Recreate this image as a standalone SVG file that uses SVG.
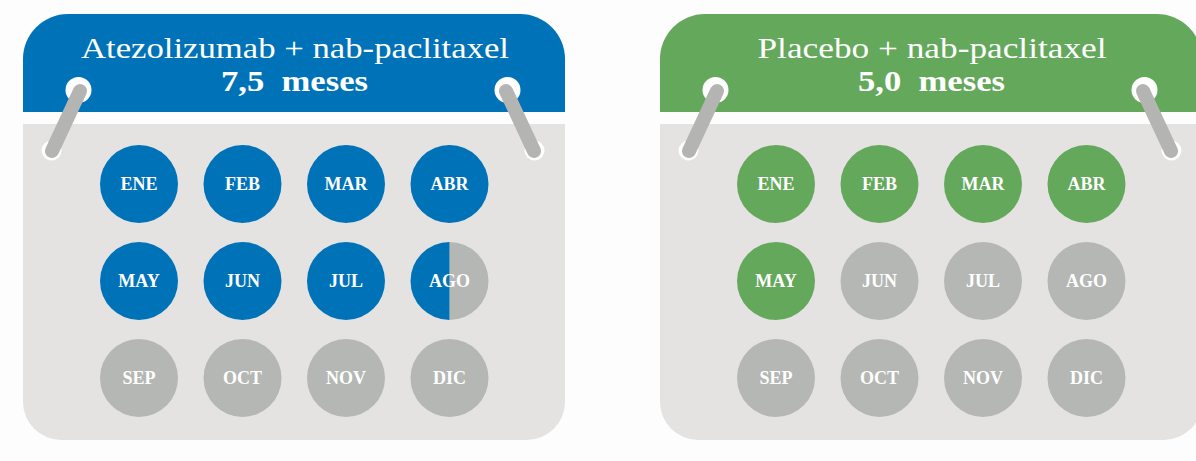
<svg xmlns="http://www.w3.org/2000/svg" width="1196" height="461" viewBox="0 0 1196 461">
  <style>
    .bg { fill: #FDFDFD; }
    .body { fill: #E4E3E1; }
    .hdr-blue { fill: #0072B8; }
    .hdr-green { fill: #64A85C; }
    .m-blue { fill: #0072B8; }
    .m-green { fill: #64A85C; }
    .m-gray { fill: #B5B7B4; }
    .title { font-family: "Liberation Serif", "Times New Roman", serif; font-size: 30px; fill: #FFFFFF; text-anchor: middle; }
    .sub { font-family: "Liberation Serif", "Times New Roman", serif; font-size: 30px; font-weight: bold; fill: #FFFFFF; text-anchor: middle; }
    .mon { font-family: "Liberation Serif", "Times New Roman", serif; font-size: 18px; font-weight: bold; fill: #FFFFFF; text-anchor: middle; }
    .hole { fill: #FFFFFF; }
    .bar { stroke: #B4B5B2; stroke-width: 14; stroke-linecap: round; fill: none; }
  </style>
  <defs>
    <clipPath id="leftHalf"><rect x="-40" y="-40" width="40" height="80"/></clipPath>
    <clipPath id="rightHalf"><rect x="0" y="-40" width="40" height="80"/></clipPath>
  </defs>
  <rect class="bg" x="0" y="0" width="1196" height="461"/>

  <!-- Left calendar -->
  <g id="calendar-atezolizumab">
    <path class="hdr-blue" d="M23,112 V59 A45,45 0 0 1 68,14 H520 A45,45 0 0 1 565,59 V112 Z"/>
    <path class="body" d="M23,124 H565 V402 A38,38 0 0 1 527,440 H61 A38,38 0 0 1 23,402 Z"/>
    <text class="title" x="295" y="57.5" textLength="428" lengthAdjust="spacingAndGlyphs">Atezolizumab + nab-paclitaxel</text>
    <text class="sub" x="294.5" y="91" textLength="147" lengthAdjust="spacingAndGlyphs" xml:space="preserve">7,5  meses</text>
    <g id="ring-a-left">
      <circle class="hole" cx="78.5" cy="90" r="13"/>
      <circle class="hole" cx="51.5" cy="150.5" r="10"/>
      <line class="bar" x1="80" y1="91" x2="52" y2="151"/>
    </g>
    <g id="ring-a-right">
      <circle class="hole" cx="507.5" cy="90" r="13"/>
      <circle class="hole" cx="534.5" cy="150.5" r="10"/>
      <line class="bar" x1="506" y1="91" x2="534" y2="151"/>
    </g>
    <g id="a-ene" transform="translate(139,184)"><circle class="m-blue" r="39"/><text class="mon" y="6">ENE</text></g>
    <g id="a-feb" transform="translate(242.5,184)"><circle class="m-blue" r="39"/><text class="mon" y="6">FEB</text></g>
    <g id="a-mar" transform="translate(346,184)"><circle class="m-blue" r="39"/><text class="mon" y="6">MAR</text></g>
    <g id="a-abr" transform="translate(449.5,184)"><circle class="m-blue" r="39"/><text class="mon" y="6">ABR</text></g>
    <g id="a-may" transform="translate(139,281)"><circle class="m-blue" r="39"/><text class="mon" y="6">MAY</text></g>
    <g id="a-jun" transform="translate(242.5,281)"><circle class="m-blue" r="39"/><text class="mon" y="6">JUN</text></g>
    <g id="a-jul" transform="translate(346,281)"><circle class="m-blue" r="39"/><text class="mon" y="6">JUL</text></g>
    <g id="a-ago" transform="translate(449.5,281)">
      <circle class="m-gray" r="39" clip-path="url(#rightHalf)"/>
      <circle class="m-blue" r="39" clip-path="url(#leftHalf)"/>
      <text class="mon" y="6">AGO</text>
    </g>
    <g id="a-sep" transform="translate(139,378)"><circle class="m-gray" r="39"/><text class="mon" y="6">SEP</text></g>
    <g id="a-oct" transform="translate(242.5,378)"><circle class="m-gray" r="39"/><text class="mon" y="6">OCT</text></g>
    <g id="a-nov" transform="translate(346,378)"><circle class="m-gray" r="39"/><text class="mon" y="6">NOV</text></g>
    <g id="a-dic" transform="translate(449.5,378)"><circle class="m-gray" r="39"/><text class="mon" y="6">DIC</text></g>
  </g>

  <!-- Right calendar -->
  <g id="calendar-placebo" transform="translate(637,0)">
    <path class="hdr-green" d="M23,112 V59 A45,45 0 0 1 68,14 H520 A45,45 0 0 1 565,59 V112 Z"/>
    <path class="body" d="M23,124 H565 V402 A38,38 0 0 1 527,440 H61 A38,38 0 0 1 23,402 Z"/>
    <text class="title" x="295" y="57.5" textLength="349" lengthAdjust="spacingAndGlyphs">Placebo + nab-paclitaxel</text>
    <text class="sub" x="294.5" y="91" textLength="147" lengthAdjust="spacingAndGlyphs" xml:space="preserve">5,0  meses</text>
    <g id="ring-p-left">
      <circle class="hole" cx="78.5" cy="90" r="13"/>
      <circle class="hole" cx="51.5" cy="150.5" r="10"/>
      <line class="bar" x1="80" y1="91" x2="52" y2="151"/>
    </g>
    <g id="ring-p-right">
      <circle class="hole" cx="507.5" cy="90" r="13"/>
      <circle class="hole" cx="534.5" cy="150.5" r="10"/>
      <line class="bar" x1="506" y1="91" x2="534" y2="151"/>
    </g>
    <g id="p-ene" transform="translate(139,184)"><circle class="m-green" r="39"/><text class="mon" y="6">ENE</text></g>
    <g id="p-feb" transform="translate(242.5,184)"><circle class="m-green" r="39"/><text class="mon" y="6">FEB</text></g>
    <g id="p-mar" transform="translate(346,184)"><circle class="m-green" r="39"/><text class="mon" y="6">MAR</text></g>
    <g id="p-abr" transform="translate(449.5,184)"><circle class="m-green" r="39"/><text class="mon" y="6">ABR</text></g>
    <g id="p-may" transform="translate(139,281)"><circle class="m-green" r="39"/><text class="mon" y="6">MAY</text></g>
    <g id="p-jun" transform="translate(242.5,281)"><circle class="m-gray" r="39"/><text class="mon" y="6">JUN</text></g>
    <g id="p-jul" transform="translate(346,281)"><circle class="m-gray" r="39"/><text class="mon" y="6">JUL</text></g>
    <g id="p-ago" transform="translate(449.5,281)"><circle class="m-gray" r="39"/><text class="mon" y="6">AGO</text></g>
    <g id="p-sep" transform="translate(139,378)"><circle class="m-gray" r="39"/><text class="mon" y="6">SEP</text></g>
    <g id="p-oct" transform="translate(242.5,378)"><circle class="m-gray" r="39"/><text class="mon" y="6">OCT</text></g>
    <g id="p-nov" transform="translate(346,378)"><circle class="m-gray" r="39"/><text class="mon" y="6">NOV</text></g>
    <g id="p-dic" transform="translate(449.5,378)"><circle class="m-gray" r="39"/><text class="mon" y="6">DIC</text></g>
  </g>

  <g id="connectors"></g>
</svg>
